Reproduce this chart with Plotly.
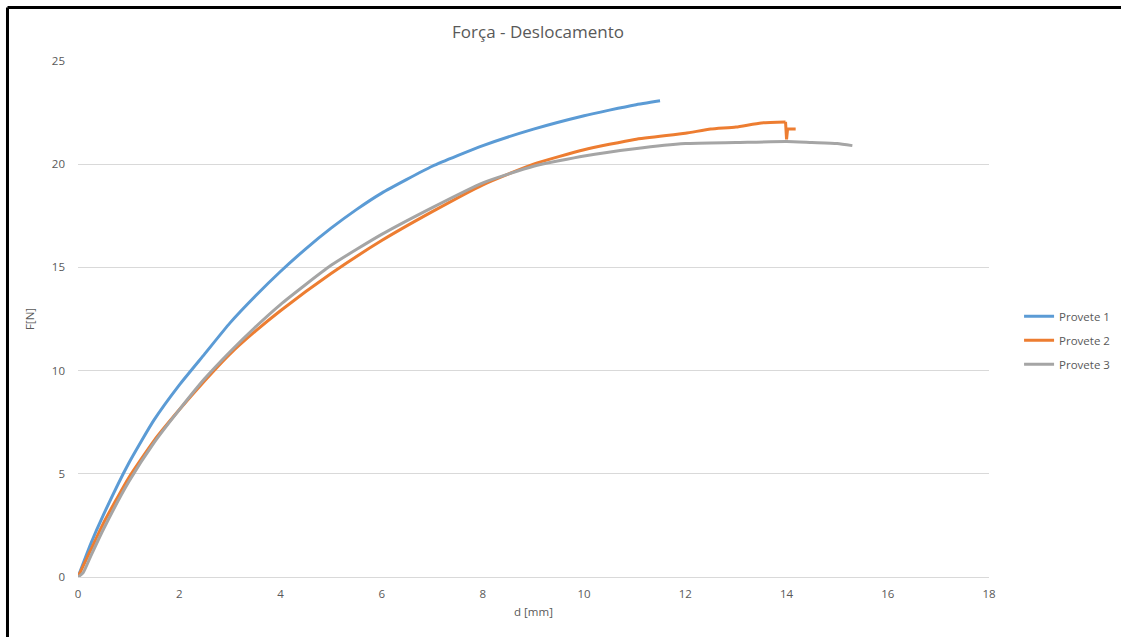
import plotly.graph_objects as go

# Force-displacement readings for three specimens
d_p1 = [0, 0.25, 0.5, 1, 1.5, 2, 2.5, 3, 3.5, 4, 4.5, 5, 5.5, 6, 7, 8, 9, 10, 10.5, 11, 11.5]
f_p1 = [0, 1.6, 3.0, 5.5, 7.6, 9.3, 10.8, 12.3, 13.6, 14.8, 15.9, 16.9, 17.8, 18.6, 19.9, 20.9, 21.7, 22.35, 22.62, 22.87, 23.07]

d_p2 = [0, 0.25, 0.5, 1, 1.5, 2, 2.5, 3, 3.5, 4, 5, 6, 7, 8, 9, 10, 11, 12, 12.5, 13, 13.5, 13.98, 14.0, 14.02, 14.18]
f_p2 = [0, 1.3, 2.6, 4.8, 6.6, 8.1, 9.5, 10.8, 11.9, 12.9, 14.7, 16.3, 17.7, 19.0, 20.0, 20.7, 21.2, 21.5, 21.7, 21.8, 22.0, 22.05, 21.2, 21.7, 21.7]

d_p3 = [0, 0.1, 0.25, 0.5, 1, 1.5, 2, 2.5, 3, 3.5, 4, 5, 6, 7, 8, 9, 10, 11, 12, 13, 14, 14.5, 15, 15.3]
f_p3 = [0, 0.2, 1.0, 2.3, 4.6, 6.5, 8.1, 9.6, 10.9, 12.1, 13.2, 15.1, 16.6, 17.9, 19.1, 19.9, 20.4, 20.75, 21.0, 21.05, 21.1, 21.05, 21.0, 20.9]

# index where specimen 2 breaks (sudden load drop)
BREAK_P2 = 21

FONT = "Open Sans, Liberation Sans, sans-serif"
TXT = "#595959"
COLORS = {"Provete 1": "#5b9bd5", "Provete 2": "#ed7d31", "Provete 3": "#a5a5a5"}

fig = go.Figure()


def add_curve(name, xs, ys, shape, legend=True):
    fig.add_trace(go.Scatter(
        x=xs, y=ys, name=name, mode="lines", legendgroup=name, showlegend=legend,
        line=dict(color=COLORS[name], width=3, shape=shape,
                  **({"smoothing": 0.5} if shape == "spline" else {}))))


add_curve("Provete 1", d_p1, f_p1, "spline")
add_curve("Provete 2", d_p2[:BREAK_P2 + 1], f_p2[:BREAK_P2 + 1], "spline")
add_curve("Provete 2", d_p2[BREAK_P2:], f_p2[BREAK_P2:], "linear", legend=False)
add_curve("Provete 3", d_p3, f_p3, "spline")

fig.update_layout(
    width=1121, height=637,
    margin=dict(l=78, r=132, t=61, b=60, autoexpand=False),
    paper_bgcolor="white", plot_bgcolor="white",
    font=dict(family=FONT, color=TXT, size=11),
    title=dict(text="Força - Deslocamento", x=0.505, xref="paper", xanchor="center",
               y=0.95, yref="container", yanchor="middle",
               font=dict(size=17, color=TXT, family=FONT)),
    legend=dict(x=1.033, y=0.459, xanchor="left", yanchor="middle",
                font=dict(size=11.5, color=TXT), tracegroupgap=5),
    showlegend=True,
)
fig.update_xaxes(range=[0, 18], dtick=2, showgrid=False, zeroline=False,
                 showline=True, linecolor="#d9d9d9", linewidth=1,
                 ticks="", ticklabelstandoff=6,
                 title=dict(text="d [mm]", font=dict(size=11.5, color=TXT), standoff=8),
                 tickfont=dict(size=11.5, color=TXT))
fig.update_yaxes(range=[0, 25], dtick=5, showgrid=True, gridcolor="#d9d9d9",
                 zeroline=False, showline=False, ticks="", ticklabelstandoff=12,
                 title=dict(text="F[N]", font=dict(size=11.5, color=TXT), standoff=14),
                 tickfont=dict(size=11.5, color=TXT))

# black frame along the top and left edges of the image
fig.add_shape(type="line", xref="paper", yref="paper",
              x0=-0.0774, x1=1.2, y0=1.1037, y1=1.1037,
              line=dict(color="black", width=3))
fig.add_shape(type="line", xref="paper", yref="paper",
              x0=-0.0774, x1=-0.0774, y0=1.1037, y1=-0.2,
              line=dict(color="black", width=3))

fig.write_html("out.html")
